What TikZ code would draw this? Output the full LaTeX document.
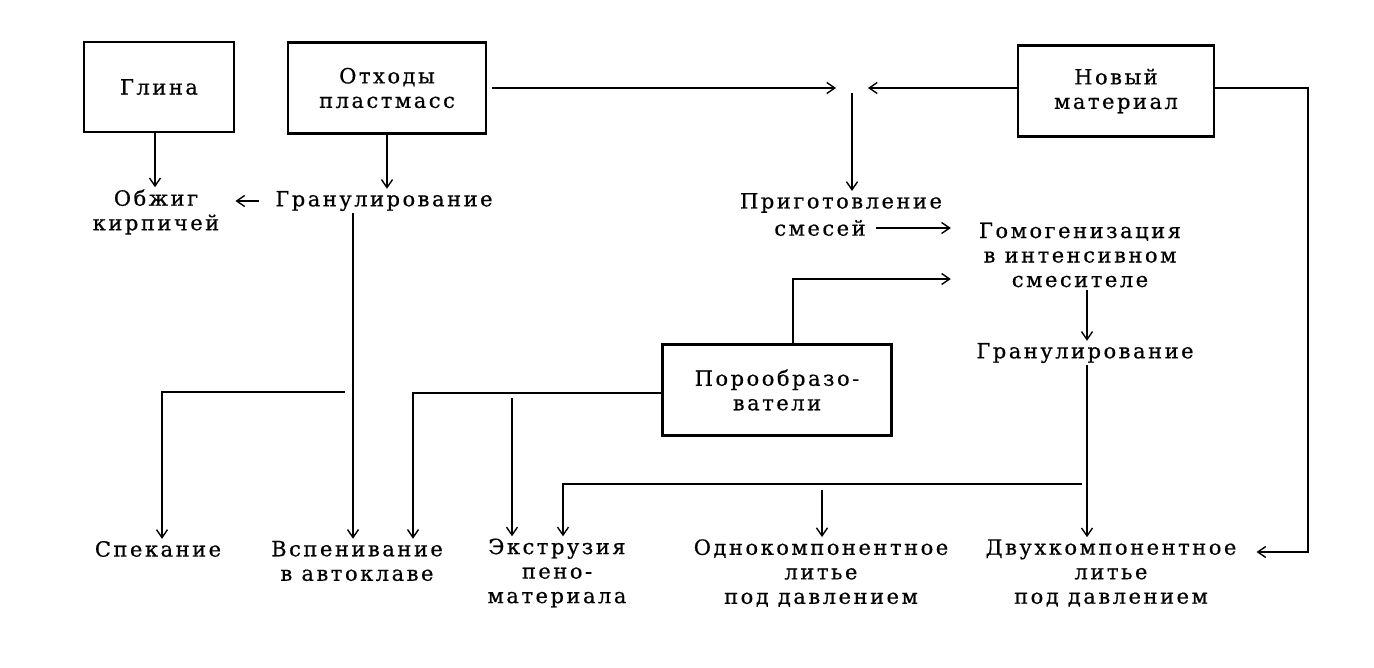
\documentclass[tikz,border=0pt]{standalone}
\usepackage{fontspec}
\setmainfont{DejaVu Serif}[LetterSpace=12,FakeBold=0.6]
\usetikzlibrary{arrows.meta,calc}
\newcommand{\labfont}{\fontsize{21}{24.5}\selectfont}
\begin{document}
\begin{tikzpicture}[x=1pt,y=-1pt,
  box/.style={draw, line width=2.4pt, align=center, font=\labfont, inner sep=0pt},
  lbl/.style={align=center, font=\labfont, inner sep=2pt},
  ln/.style={line width=2.1pt},
  arr/.style={ln, -{Straight Barb[length=8pt,width=11pt,line width=1.4pt]}}]
\useasboundingbox (0,0) rectangle (1374,668);
% boxes
\node[box, minimum width=150pt, minimum height=90pt] (glina) at (159,87) {Глина};
\node[box, minimum width=198pt, minimum height=91pt] (othody) at (387,88) {Отходы\\пластмасс};
\node[box, minimum width=196pt, minimum height=91pt] (novyi) at (1116,91) {Новый\\материал};
\node[box, minimum width=229pt, minimum height=91pt] (poro) at (777,390) {Порообразо-\\ватели};
% labels
\node[lbl] (obzhig) at (156,212) {Обжиг\\кирпичей};
\node[lbl] (gran1) at (384,201) {Гранулирование};
\node[lbl] (prigA) at (841,203) {Приготовление};
\node[lbl] (prigB) at (820,228) {смесей};
\node[lbl] (gomo) at (1080,255) {Гомогенизация\\в интенсивном\\смесителе};
\node[lbl] (gran2) at (1085,353) {Гранулирование};
\node[lbl] (spek) at (158,549) {Спекание};
\node[lbl] (vsp) at (357,561) {Вспенивание\\в автоклаве};
\node[lbl] (extr) at (557,573) {Экструзия\\пено-\\материала};
\node[lbl] (odno) at (821,573) {Однокомпонентное\\литье\\под давлением};
\node[lbl] (dvukh) at (1111,573) {Двухкомпонентное\\литье\\под давлением};
% junctions
\coordinate (mix) at (852,88);
\coordinate (jg) at (353,392);
\coordinate (jp) at (413,393);
\coordinate (je) at (512,398);
\coordinate (jt) at (793,279);
\coordinate (jd) at (1087,484);
\coordinate (jx) at (563,484);
\coordinate (jo) at (822,490);
\coordinate (jr) at (1308,88);
\coordinate (jr2) at (1308,552);
% connectors
\draw[arr] ($(glina.south)+(-4,0)$) -- ($(glina.south |- obzhig.north)+(-4,0)$);
\draw[arr] (othody.south) -- (othody.south |- gran1.north);
\draw[arr, shorten <=14pt, shorten >=14pt] (gran1.west) -- (gran1.west -| obzhig.east);
\draw[arr, shorten >=16pt] ($(othody.east |- mix)+(5,0)$) -- (mix);
\draw[arr, shorten >=16pt] (novyi.west |- mix) -- (mix);
\draw[arr] ($(mix)+(0,5)$) -- (mix |- prigA.north);
\draw[arr, shorten <=8pt, shorten >=26pt] (prigB.east) -- (gomo.west |- prigB.east);
\draw[arr, shorten >=26pt] (poro.north -| jt) -- (jt) -- (gomo.west |- jt);
\draw[arr] ($(gomo.south)+(7,0)$) -- ($(gomo.south |- gran2.north)+(7,0)$);
\draw[arr] (gran1.south -| jg) -- (jg |- vsp.north);
\draw[arr] ($(jg)+(-8,0)$) -| ($(spek.north)+(4,0)$);
\draw[arr] (poro.west |- jp) -- (jp) -- (jp |- vsp.north);
\draw[arr] (je) -- (je |- extr.north);
\draw[arr] (gran2.south -| jd) -- (jd |- dvukh.north);
\draw[arr] ($(jd)+(-5,0)$) -- (jx) -- (jx |- extr.north);
\draw[arr] (jo) -- (jo |- odno.north);
\draw[arr, shorten >=18pt] (novyi.east |- jr) -- (jr) -- (jr2) -- (jr2 -| dvukh.east);
\end{tikzpicture}
\end{document}
